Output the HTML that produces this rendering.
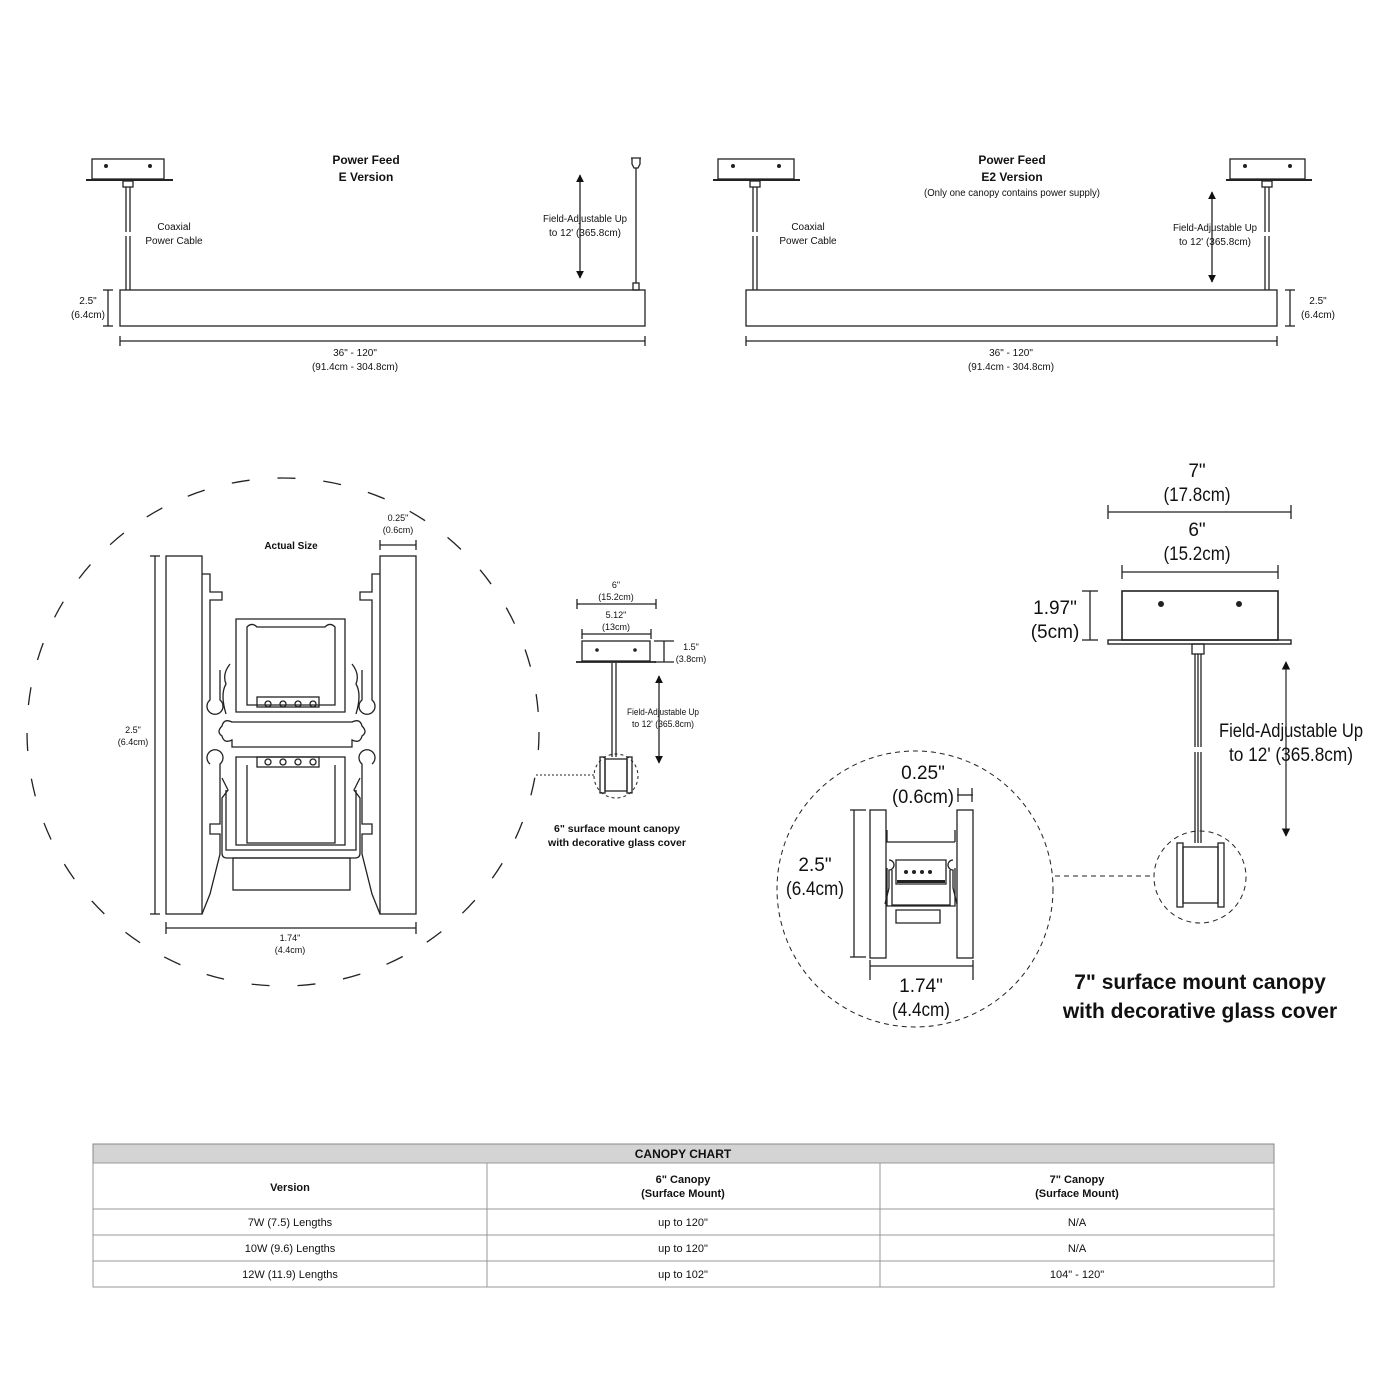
<!DOCTYPE html>
<html><head><meta charset="utf-8"><style>
html,body{margin:0;padding:0;background:#fff}
svg{display:block}
text{font-family:"Liberation Sans",sans-serif;fill:#111}
.s{font-size:10px}
.b{font-weight:bold}
.L{font-size:19px}
</style></head><body>
<svg width="1400" height="1400" viewBox="0 0 1400 1400" xmlns="http://www.w3.org/2000/svg">
<defs>
<marker id="ah" viewBox="0 0 10 10" refX="9" refY="5" markerWidth="7" markerHeight="10" orient="auto-start-reverse"><path d="M0,0 L10,5 L0,10 z" fill="#111"/></marker>
<marker id="ahb" viewBox="0 0 10 10" refX="9" refY="5" markerWidth="6" markerHeight="7" orient="auto-start-reverse"><path d="M0,0 L10,5 L0,10 z" fill="#111"/></marker>
</defs>
<g fill="none" stroke="#222" stroke-width="1.3">
<!-- TOP LEFT -->
<rect x="92" y="159" width="72" height="20"/>
<line x1="86" y1="180" x2="173" y2="180" stroke-width="2"/>
<rect x="123" y="181" width="10" height="6"/>
<path d="M126,187 v45 M126,236 v54 M130,187 v45 M130,236 v54"/>
<rect x="120" y="290" width="525" height="36"/>
<line x1="108" y1="290" x2="108" y2="326"/><line x1="103" y1="290" x2="113" y2="290"/><line x1="103" y1="326" x2="113" y2="326"/>
<line x1="120" y1="341" x2="645" y2="341"/><line x1="120" y1="336" x2="120" y2="346"/><line x1="645" y1="336" x2="645" y2="346"/>
<path d="M631,158 h10 M632,158 v6 l2,4 h4 l2,-4 v-6"/>
<line x1="636" y1="168" x2="636" y2="283"/><rect x="633" y="283" width="6" height="7"/>
<line x1="580" y1="175" x2="580" y2="278" marker-start="url(#ahb)" marker-end="url(#ahb)"/>
<!-- TOP RIGHT -->
<rect x="718" y="159" width="76" height="20"/>
<line x1="713" y1="180" x2="800" y2="180" stroke-width="2"/>
<rect x="750" y="181" width="10" height="6"/>
<path d="M753,187 v45 M753,236 v54 M757,187 v45 M757,236 v54"/>
<rect x="1230" y="159" width="75" height="20"/>
<line x1="1226" y1="180" x2="1312" y2="180" stroke-width="2"/>
<rect x="1262" y="181" width="10" height="6"/>
<path d="M1265,187 v45 M1265,236 v54 M1269,187 v45 M1269,236 v54"/>
<rect x="746" y="290" width="531" height="36"/>
<line x1="1290" y1="290" x2="1290" y2="326"/><line x1="1285" y1="290" x2="1295" y2="290"/><line x1="1285" y1="326" x2="1295" y2="326"/>
<line x1="746" y1="341" x2="1277" y2="341"/><line x1="746" y1="336" x2="746" y2="346"/><line x1="1277" y1="336" x2="1277" y2="346"/>
<line x1="1212" y1="192" x2="1212" y2="282" marker-start="url(#ahb)" marker-end="url(#ahb)"/>
<!-- BIG LEFT CIRCLE -->
<ellipse cx="283" cy="732" rx="256" ry="254" stroke-dasharray="18,28"/>
<rect x="166" y="556" width="36" height="358"/>
<rect x="380" y="556" width="36" height="358"/>
<line x1="155" y1="556" x2="155" y2="914"/><line x1="150" y1="556" x2="160" y2="556"/><line x1="150" y1="914" x2="160" y2="914"/>
<line x1="166" y1="928" x2="416" y2="928"/><line x1="166" y1="922" x2="166" y2="934"/><line x1="416" y1="922" x2="416" y2="934"/>
<line x1="380" y1="545" x2="416" y2="545"/><line x1="380" y1="540" x2="380" y2="550"/><line x1="416" y1="540" x2="416" y2="550"/>
<path d="M202,574 h8 v18 h12 v8 h-12 v100 a8,8 0 1,0 10,0 v-30 M202,914 l8,-20 l10,-40 v-20 h-10 v-10 h10 v-60 a8,8 0 1,0 -10,0"/>
<path d="M380,574 h-8 v18 h-12 v8 h12 v100 a8,8 0 1,1 -10,0 v-30 M380,914 l-8,-20 l-10,-40 v-20 h10 v-10 h-10 v-60 a8,8 0 1,1 10,0"/>
<path d="M236,619 h109 v93 h-109 z"/>
<path d="M247,627 q5,-5 10,0 h68 q5,-5 10,0 v78 h-88 z"/>
<path d="M230,664 q-8,10 -4,20 q-6,10 0,30 M352,664 q8,10 4,20 q6,10 0,30"/>
<rect x="257" y="697" width="62" height="10"/>
<circle cx="268" cy="704" r="3"/><circle cx="283" cy="704" r="3"/><circle cx="298" cy="704" r="3"/><circle cx="313" cy="704" r="3"/>
<path d="M232,722 h120 q8,-4 10,4 q6,6 0,10 q-2,8 -10,4 v7 h-120 v-7 q-8,4 -10,-4 q-6,-4 0,-10 q2,-8 10,-4 z"/>
<rect x="236" y="757" width="109" height="88"/>
<path d="M247,765 v78 h88 v-78"/>
<rect x="257" y="757" width="62" height="10"/>
<circle cx="268" cy="762" r="3"/><circle cx="283" cy="762" r="3"/><circle cx="298" cy="762" r="3"/><circle cx="313" cy="762" r="3"/>
<path d="M222,778 l6,12 l-6,8 v55 q0,5 5,5 h128 q5,0 5,-5 v-55 l-6,-8 l6,-12"/>
<path d="M226,790 v60 h130 v-60"/>
<rect x="233" y="858" width="117" height="32"/>
<!-- MIDDLE SMALL -->
<line x1="577" y1="604" x2="656" y2="604"/><line x1="577" y1="599" x2="577" y2="609"/><line x1="656" y1="599" x2="656" y2="609"/>
<line x1="582" y1="634" x2="651" y2="634"/><line x1="582" y1="629" x2="582" y2="639"/><line x1="651" y1="629" x2="651" y2="639"/>
<rect x="582" y="641" width="68" height="20"/>
<line x1="576" y1="662" x2="656" y2="662" stroke-width="1.8"/>
<line x1="654" y1="641" x2="674" y2="641"/><line x1="654" y1="662" x2="674" y2="662"/><line x1="664" y1="641" x2="664" y2="662"/>
<line x1="612" y1="663" x2="612" y2="757"/><line x1="616" y1="663" x2="616" y2="757"/>
<rect x="600" y="757" width="5" height="36"/><rect x="605" y="759" width="22" height="32"/><rect x="627" y="757" width="5" height="36"/>
<circle cx="616" cy="776" r="22" stroke-dasharray="3,3" stroke-width="1"/>
<line x1="536" y1="775" x2="594" y2="775" stroke-dasharray="2,2" stroke-width="1"/>
<line x1="659" y1="676" x2="659" y2="763" marker-start="url(#ahb)" marker-end="url(#ahb)"/>
<!-- RIGHT BIG -->
<line x1="1108" y1="512" x2="1291" y2="512"/><line x1="1108" y1="505" x2="1108" y2="519"/><line x1="1291" y1="505" x2="1291" y2="519"/>
<line x1="1122" y1="572" x2="1278" y2="572"/><line x1="1122" y1="565" x2="1122" y2="579"/><line x1="1278" y1="565" x2="1278" y2="579"/>
<rect x="1122" y="591" width="156" height="49" stroke-width="1.6"/>
<rect x="1108" y="640" width="183" height="4" stroke-width="1.4"/>
<line x1="1082" y1="591" x2="1098" y2="591"/><line x1="1082" y1="640" x2="1098" y2="640"/><line x1="1090" y1="591" x2="1090" y2="640"/>
<rect x="1192" y="644" width="12" height="10"/>
<path d="M1195,654 v93 M1195,752 v91 M1198,654 v93 M1198,752 v91 M1201,654 v93 M1201,752 v91"/>
<rect x="1177" y="843" width="6" height="64"/><rect x="1183" y="847" width="35" height="56"/><rect x="1218" y="843" width="6" height="64"/>
<circle cx="1200" cy="877" r="46" stroke-dasharray="5,4" stroke-width="1"/>
<line x1="1055" y1="876" x2="1154" y2="876" stroke-dasharray="5,4" stroke-width="1"/>
<line x1="1286" y1="662" x2="1286" y2="836" marker-start="url(#ah)" marker-end="url(#ah)" stroke-width="1.2"/>
<circle cx="915" cy="889" r="138" stroke-dasharray="5,4" stroke-width="1"/>
<rect x="870" y="810" width="16" height="148"/><rect x="957" y="810" width="16" height="148"/>
<line x1="854" y1="810" x2="854" y2="957"/><line x1="850" y1="810" x2="866" y2="810"/><line x1="850" y1="957" x2="866" y2="957"/>
<line x1="870" y1="966" x2="973" y2="966"/><line x1="870" y1="960" x2="870" y2="980"/><line x1="973" y1="960" x2="973" y2="980"/>
<line x1="957" y1="795" x2="973" y2="795"/><line x1="958" y1="788" x2="958" y2="802"/><line x1="972" y1="788" x2="972" y2="802"/>
<path d="M886,842 h69 M887,868 v38 h68 v-38 M892,870 v35 h58 v-35 M896,860 h50 v24 h-50 z M896,910 h44 v13 h-44 z M887,842 v-12 M955,842 v-12"/>
<path d="M889,860 a4,4 0 1,1 0,10 v18 l-4,16 M953,860 a4,4 0 1,0 0,10 v18 l4,16"/>
</g>
<g fill="#222">
<circle cx="106" cy="166" r="2"/><circle cx="150" cy="166" r="2"/>
<circle cx="733" cy="166" r="2"/><circle cx="779" cy="166" r="2"/>
<circle cx="1245" cy="166" r="2"/><circle cx="1290" cy="166" r="2"/>
<circle cx="597" cy="650" r="1.8"/><circle cx="635" cy="650" r="1.8"/>
<circle cx="1161" cy="604" r="3"/><circle cx="1239" cy="604" r="3"/>
<circle cx="906" cy="872" r="2"/><circle cx="914" cy="872" r="2"/><circle cx="922" cy="872" r="2"/><circle cx="930" cy="872" r="2"/>
<rect x="897" y="880" width="48" height="3"/>
</g>
<text x="366" y="164" class="b" font-size="12" text-anchor="middle">Power Feed</text>
<text x="366" y="181" class="b" font-size="12" text-anchor="middle">E Version</text>
<text x="174" y="230" class="s" text-anchor="middle">Coaxial</text>
<text x="174" y="244" class="s" text-anchor="middle">Power Cable</text>
<text x="585" y="222" class="s" text-anchor="middle" textLength="84" lengthAdjust="spacingAndGlyphs">Field-Adjustable Up</text>
<text x="585" y="236" class="s" text-anchor="middle" textLength="72" lengthAdjust="spacingAndGlyphs">to 12' (365.8cm)</text>
<text x="88" y="304" class="s" text-anchor="middle">2.5"</text>
<text x="88" y="318" class="s" text-anchor="middle">(6.4cm)</text>
<text x="355" y="356" class="s" text-anchor="middle">36" - 120"</text>
<text x="355" y="370" class="s" text-anchor="middle" textLength="86" lengthAdjust="spacingAndGlyphs">(91.4cm - 304.8cm)</text>
<text x="1012" y="164" class="b" font-size="12" text-anchor="middle">Power Feed</text>
<text x="1012" y="181" class="b" font-size="12" text-anchor="middle">E2 Version</text>
<text x="1012" y="196" class="s" text-anchor="middle" textLength="176" lengthAdjust="spacingAndGlyphs">(Only one canopy contains power supply)</text>
<text x="808" y="230" class="s" text-anchor="middle">Coaxial</text>
<text x="808" y="244" class="s" text-anchor="middle">Power Cable</text>
<text x="1215" y="231" class="s" text-anchor="middle" textLength="84" lengthAdjust="spacingAndGlyphs">Field-Adjustable Up</text>
<text x="1215" y="245" class="s" text-anchor="middle" textLength="72" lengthAdjust="spacingAndGlyphs">to 12' (365.8cm)</text>
<text x="1318" y="304" class="s" text-anchor="middle">2.5"</text>
<text x="1318" y="318" class="s" text-anchor="middle">(6.4cm)</text>
<text x="1011" y="356" class="s" text-anchor="middle">36" - 120"</text>
<text x="1011" y="370" class="s" text-anchor="middle" textLength="86" lengthAdjust="spacingAndGlyphs">(91.4cm - 304.8cm)</text>
<text x="291" y="549" class="b" font-size="10" text-anchor="middle">Actual Size</text>
<text x="398" y="521" font-size="9" text-anchor="middle">0.25"</text>
<text x="398" y="533" font-size="9" text-anchor="middle">(0.6cm)</text>
<text x="133" y="733" font-size="9" text-anchor="middle">2.5"</text>
<text x="133" y="745" font-size="9" text-anchor="middle">(6.4cm)</text>
<text x="290" y="941" font-size="9" text-anchor="middle">1.74"</text>
<text x="290" y="953" font-size="9" text-anchor="middle">(4.4cm)</text>
<text x="616" y="588" font-size="9" text-anchor="middle">6"</text>
<text x="616" y="600" font-size="9" text-anchor="middle">(15.2cm)</text>
<text x="616" y="618" font-size="9" text-anchor="middle">5.12"</text>
<text x="616" y="630" font-size="9" text-anchor="middle">(13cm)</text>
<text x="691" y="650" font-size="9" text-anchor="middle">1.5"</text>
<text x="691" y="662" font-size="9" text-anchor="middle">(3.8cm)</text>
<text x="663" y="715" font-size="9" text-anchor="middle" textLength="72" lengthAdjust="spacingAndGlyphs">Field-Adjustable Up</text>
<text x="663" y="727" font-size="9" text-anchor="middle" textLength="62" lengthAdjust="spacingAndGlyphs">to 12' (365.8cm)</text>
<text x="617" y="832" class="b" font-size="10" text-anchor="middle" textLength="126" lengthAdjust="spacingAndGlyphs">6" surface mount canopy</text>
<text x="617" y="846" class="b" font-size="10" text-anchor="middle" textLength="138" lengthAdjust="spacingAndGlyphs">with decorative glass cover</text>
<text x="1197" y="477" class="L" text-anchor="middle">7"</text>
<text x="1197" y="501" class="L" text-anchor="middle" textLength="67" lengthAdjust="spacingAndGlyphs">(17.8cm)</text>
<text x="1197" y="536" class="L" text-anchor="middle">6"</text>
<text x="1197" y="560" class="L" text-anchor="middle" textLength="67" lengthAdjust="spacingAndGlyphs">(15.2cm)</text>
<text x="1055" y="614" class="L" text-anchor="middle">1.97"</text>
<text x="1055" y="638" class="L" text-anchor="middle">(5cm)</text>
<text x="1291" y="737" class="L" text-anchor="middle" textLength="144" lengthAdjust="spacingAndGlyphs">Field-Adjustable Up</text>
<text x="1291" y="761" class="L" text-anchor="middle" textLength="124" lengthAdjust="spacingAndGlyphs">to 12' (365.8cm)</text>
<text x="923" y="779" class="L" text-anchor="middle">0.25"</text>
<text x="923" y="803" class="L" text-anchor="middle" textLength="62" lengthAdjust="spacingAndGlyphs">(0.6cm)</text>
<text x="815" y="871" class="L" text-anchor="middle">2.5"</text>
<text x="815" y="895" class="L" text-anchor="middle" textLength="58" lengthAdjust="spacingAndGlyphs">(6.4cm)</text>
<text x="921" y="992" class="L" text-anchor="middle">1.74"</text>
<text x="921" y="1016" class="L" text-anchor="middle" textLength="58" lengthAdjust="spacingAndGlyphs">(4.4cm)</text>
<text x="1200" y="989" class="b" font-size="21" text-anchor="middle">7" surface mount canopy</text>
<text x="1200" y="1018" class="b" font-size="21" text-anchor="middle">with decorative glass cover</text>
<rect x="93" y="1144" width="1181" height="19" fill="#d4d4d4" stroke="#888"/>
<g stroke="#999" fill="none">
<rect x="93" y="1163" width="1181" height="124"/>
<line x1="93" y1="1209" x2="1274" y2="1209"/><line x1="93" y1="1235" x2="1274" y2="1235"/><line x1="93" y1="1261" x2="1274" y2="1261"/>
<line x1="487" y1="1163" x2="487" y2="1287"/><line x1="880" y1="1163" x2="880" y2="1287"/>
</g>
<text x="683" y="1158" class="b" font-size="12" text-anchor="middle">CANOPY CHART</text>
<text x="290" y="1191" class="b" font-size="11" text-anchor="middle">Version</text>
<text x="683" y="1183" class="b" font-size="11" text-anchor="middle">6" Canopy</text>
<text x="683" y="1197" class="b" font-size="11" text-anchor="middle">(Surface Mount)</text>
<text x="1077" y="1183" class="b" font-size="11" text-anchor="middle">7" Canopy</text>
<text x="1077" y="1197" class="b" font-size="11" text-anchor="middle">(Surface Mount)</text>
<text x="290" y="1226" font-size="11" text-anchor="middle">7W (7.5) Lengths</text>
<text x="683" y="1226" font-size="11" text-anchor="middle">up to 120"</text>
<text x="1077" y="1226" font-size="11" text-anchor="middle">N/A</text>
<text x="290" y="1252" font-size="11" text-anchor="middle">10W (9.6) Lengths</text>
<text x="683" y="1252" font-size="11" text-anchor="middle">up to 120"</text>
<text x="1077" y="1252" font-size="11" text-anchor="middle">N/A</text>
<text x="290" y="1278" font-size="11" text-anchor="middle">12W (11.9) Lengths</text>
<text x="683" y="1278" font-size="11" text-anchor="middle">up to 102"</text>
<text x="1077" y="1278" font-size="11" text-anchor="middle">104" - 120"</text>
</svg>
</body></html>
